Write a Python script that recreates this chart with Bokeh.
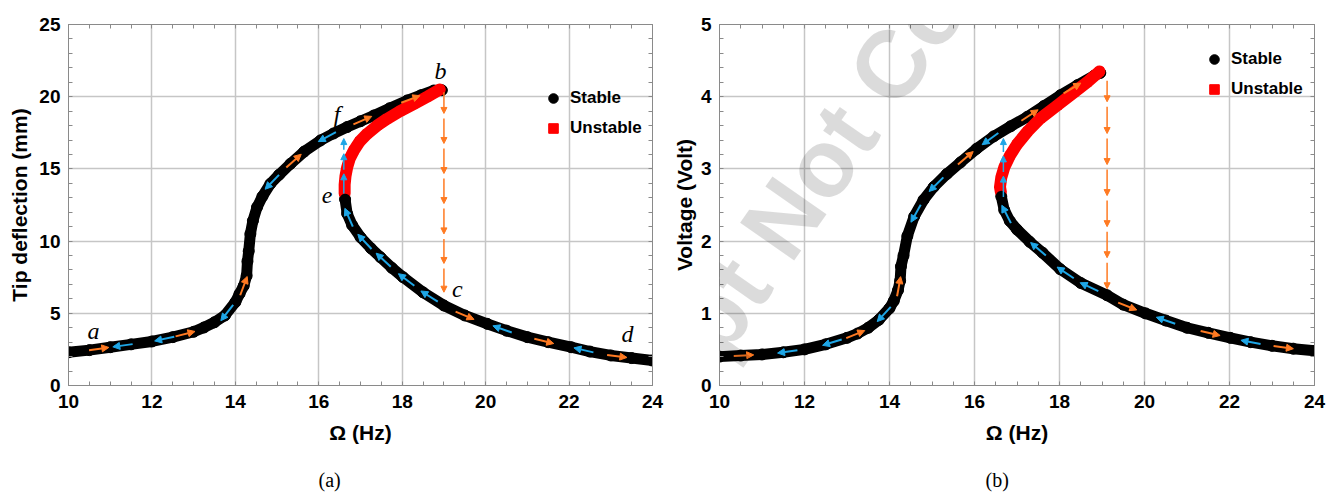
import numpy as np
from bokeh.plotting import figure
from bokeh.models import (LinearAxis, Range1d, Legend, LegendItem, Label, Arrow, Title,
                          NormalHead, ColumnDataSource, SingleIntervalTicker, FixedTicker)
from bokeh.layouts import row
from bokeh.embed import file_html
from bokeh.resources import INLINE
from bokeh.core.properties import value

# ---------------- data: panel (a) tip deflection (mm) vs frequency (Hz)
a_up_x = [10.0, 10.5, 11.0, 11.5, 12.0, 12.5, 13.0, 13.25, 13.5, 13.75, 14.0, 14.1, 14.2, 14.27,
          14.29, 14.32, 14.36, 14.42, 14.52, 14.65, 14.84, 15.05, 15.32, 15.65, 16.04, 16.35,
          16.68, 17.0, 17.32, 17.7, 18.12, 18.45, 18.76, 18.95]
a_up_y = [2.3, 2.45, 2.65, 2.85, 3.05, 3.35, 3.72, 4.02, 4.38, 4.85, 5.77, 6.35, 6.9, 7.6,
          8.6, 9.3, 10.5, 11.4, 12.35, 13.1, 13.97, 14.6, 15.35, 16.2, 16.97, 17.45,
          17.9, 18.3, 18.7, 19.2, 19.74, 20.1, 20.43, 20.45]
a_un_x = [18.9, 18.6, 18.28, 17.95, 17.64, 17.4, 17.16, 16.98, 16.84, 16.74, 16.68, 16.64,
          16.62, 16.62]
a_un_y = [20.5, 20.0, 19.5, 19.0, 18.47, 18.0, 17.43, 16.9, 16.27, 15.7, 15.1, 14.5, 13.9, 13.3]
a_lo_x = [16.63, 16.68, 16.8, 17.0, 17.25, 17.48, 17.75, 18.02, 18.5, 19.0, 19.5, 20.04, 20.5,
          21.0, 21.5, 22.05, 22.5, 23.0, 23.5, 24.0]
a_lo_y = [12.9, 11.9, 11.1, 10.27, 9.5, 8.88, 8.15, 7.5, 6.45, 5.54, 4.85, 4.27, 3.8,
          3.35, 3.0, 2.65, 2.35, 2.08, 1.9, 1.73]
# sweep arrows (x position on branch): forward (orange) / backward (blue)
a_up_fwd = [10.73, 12.8, 14.2, 15.4, 17.05, 18.2]
a_up_bwd = [11.3, 12.3, 13.8, 14.88, 16.2]
a_lo_fwd = [19.5, 21.4, 23.15]
a_lo_bwd = [16.72, 17.1, 17.55, 18.1, 18.65, 20.4, 22.35]
# jumps
a_down_x = 19.0
a_down_top = 20.3
a_down_heads = [18.84, 16.76, 14.68, 12.6, 10.5, 8.45, 6.46]
a_upj_x = 16.6
a_upj_bottom = 13.3
a_upj_heads = [14.66, 16.05, 17.1]
a_letters = ["a", "b", "c", "d", "e", "f"]
a_letter_x = [10.6, 18.92, 19.32, 23.4, 16.2, 16.44]
a_letter_y = [3.8, 21.8, 6.7, 3.58, 13.16, 18.8]

# ---------------- data: panel (b) voltage (V) vs frequency (Hz)
b_up_x = [10.0, 10.5, 11.0, 11.5, 12.0, 12.5, 13.0, 13.25, 13.5, 13.75, 14.0, 14.1, 14.2, 14.25,
          14.27, 14.33, 14.42, 14.58, 14.8, 15.04, 15.35, 15.67, 16.05, 16.45, 16.85, 17.24,
          17.63, 18.02, 18.42, 18.81, 18.96]
b_up_y = [0.40, 0.415, 0.43, 0.46, 0.50, 0.57, 0.66, 0.72, 0.80, 0.91, 1.07, 1.17, 1.32, 1.45,
          1.65, 1.8, 2.07, 2.34, 2.57, 2.75, 2.93, 3.09, 3.28, 3.45, 3.59, 3.72,
          3.87, 4.02, 4.16, 4.29, 4.33]
b_un_x = [18.94, 18.65, 18.34, 17.95, 17.55, 17.25, 17.0, 16.83, 16.7, 16.63, 16.6, 16.62]
b_un_y = [4.35, 4.2, 4.06, 3.88, 3.70, 3.52, 3.34, 3.18, 3.02, 2.88, 2.75, 2.68]
b_lo_x = [16.63, 16.7, 16.83, 17.0, 17.3, 17.6, 18.02, 18.5, 19.12, 19.5, 20.02, 20.5, 21.0,
          21.5, 22.02, 22.5, 23.0, 23.5, 24.0]
b_lo_y = [2.62, 2.43, 2.28, 2.16, 1.99, 1.84, 1.61, 1.42, 1.25, 1.12, 1.0, 0.9, 0.80,
          0.73, 0.66, 0.60, 0.55, 0.51, 0.48]
b_up_fwd = [10.57, 13.2, 14.22, 15.79, 17.3, 18.3]
b_up_bwd = [11.6, 12.65, 13.87, 14.62, 15.1, 16.37]
b_lo_fwd = [19.6, 21.55, 23.27]
b_lo_bwd = [16.75, 17.5, 18.14, 18.7, 20.5, 22.5]
b_down_x = 19.12
b_down_top = 4.22
b_down_heads = [3.93, 3.49, 3.06, 2.63, 2.2, 1.77, 1.34]
b_upj_x = 16.68
b_upj_bottom = 2.61
b_upj_heads = [2.9, 3.18, 3.42]

x_ticks_interval = 2
ORANGE = "#ff7a22"
BLUE = "#1ea6e6"
GRID = "#c6c6c6"
AX = "#8a8a8a"
FONT = "Liberation Sans"
WATERMARK = "Accepted Manuscript Not Copyedited"


def curve_arrows(bx, by, xs, direction, sx, sy, half=10.0):
    bx = np.asarray(bx); by = np.asarray(by)
    x0, y0, x1, y1 = [], [], [], []
    for x in xs:
        yc = np.interp(x, bx, by)
        ya = np.interp(x - 0.04, bx, by)
        yb = np.interp(x + 0.04, bx, by)
        tx, ty = 0.08 * sx, (yb - ya) * sy
        n = np.hypot(tx, ty)
        tx, ty = tx / n, ty / n
        x0.append(x - direction * half * tx / sx)
        y0.append(yc - direction * half * ty / sy)
        x1.append(x + direction * half * tx / sx)
        y1.append(yc + direction * half * ty / sy)
    return dict(x0=x0, y0=y0, x1=x1, y1=y1)


def add_arrows(p, data, color, lw=2, size=7):
    src = ColumnDataSource(data)
    p.add_layout(Arrow(end=NormalHead(size=size, fill_color=color, line_color=color, line_width=1),
                       line_color=color, line_width=lw, x_start="x0", y_start="y0",
                       x_end="x1", y_end="y1", source=src))


def jump_arrows(x, start, heads, gap):
    if heads[-1] > heads[0]:
        starts = [start] + [h + gap for h in heads[:-1]]
    else:
        starts = [start] + [h - gap for h in heads[:-1]]
    return dict(x0=[x] * len(heads), y0=starts, x1=[x] * len(heads), y1=list(heads))


def make_panel(width, height, bl, br, bt, bb, ymax, yint, yminor, ylabel, ylabel_standoff,
               upx, upy, unx, uny, lox, loy, upf, upb, lof, lob,
               dx, dtop, dheads, ux, ubot, uheads, legend_loc, caption, cap_offset,
               wm=None):
    p = figure(width=width, height=height, x_range=Range1d(10, 24), y_range=Range1d(0, ymax),
               output_backend="svg", toolbar_location=None,
               min_border_left=bl, min_border_right=br, min_border_top=bt, min_border_bottom=bb)
    p.outline_line_color = AX
    p.background_fill_color = "white"
    p.border_fill_color = "white"
    fw = width - bl - br
    fh = height - bt - bb
    sx = fw / 14.0
    sy = fh / ymax

    xt = SingleIntervalTicker(interval=x_ticks_interval, num_minor_ticks=4)
    yt = SingleIntervalTicker(interval=yint, num_minor_ticks=yminor)
    p.xaxis.ticker = xt
    p.yaxis.ticker = yt
    p.xgrid.ticker = xt
    p.ygrid.ticker = yt
    for g in (p.xgrid, p.ygrid):
        g.grid_line_color = GRID
        g.grid_line_width = 1.5
    for ax in (p.xaxis[0], p.yaxis[0]):
        ax.axis_line_color = AX
        ax.major_tick_in = 0
        ax.major_tick_out = 0
        ax.minor_tick_in = 4
        ax.minor_tick_out = 0
        ax.minor_tick_line_color = AX
        ax.major_label_text_font = FONT
        ax.major_label_text_font_style = "bold"
        ax.major_label_text_font_size = "19px"
        ax.major_label_text_color = "black"
        ax.axis_label_text_font = FONT
        ax.axis_label_text_font_style = "bold"
        ax.axis_label_text_font_size = "21px"
        ax.axis_label_text_color = "black"
    p.xaxis.axis_label = "Ω (Hz)"
    p.yaxis.axis_label = ylabel
    p.xaxis.major_label_standoff = 9
    p.xaxis.axis_label_standoff = 10
    p.yaxis.major_label_standoff = 8
    p.yaxis.axis_label_standoff = ylabel_standoff

    # frame ticks on right and top: minor ticks only, no labels
    x_minor = list(np.arange(10, 24.001, x_ticks_interval / 4.0))
    y_minor = list(np.arange(0, ymax + 1e-6, yint / float(yminor)))
    for loc, mt in (("right", y_minor), ("above", x_minor)):
        ax = LinearAxis(ticker=FixedTicker(ticks=[], minor_ticks=mt), major_tick_in=0,
                        major_tick_out=0, minor_tick_in=4, minor_tick_out=0,
                        minor_tick_line_color=AX, axis_line_color=AX)
        p.add_layout(ax, loc)

    # watermark (faint, rotated) where it crosses this panel
    if wm is not None:
        p.add_layout(Label(x=wm[0], y=wm[1], text=WATERMARK, angle=np.deg2rad(55),
                           text_font=FONT, text_font_style="bold", text_font_size="96px",
                           text_color="black", text_alpha=0.14, text_align="center",
                           text_baseline="middle", level="overlay"))

    # curves
    p.line(upx, upy, line_color="black", line_width=11, line_cap="round", line_join="round")
    st = p.scatter(upx + lox, upy + loy, marker="circle", size=11, color="black")
    p.line(unx, uny, line_color="red", line_width=12, line_cap="round", line_join="round")
    un = p.scatter(unx, uny, marker="square", size=8, color="red")
    p.line(lox, loy, line_color="black", line_width=11, line_cap="round", line_join="round")

    add_arrows(p, curve_arrows(upx, upy, upf, 1, sx, sy), ORANGE)
    add_arrows(p, curve_arrows(upx, upy, upb, -1, sx, sy), BLUE)
    add_arrows(p, curve_arrows(lox, loy, lof, 1, sx, sy), ORANGE)
    add_arrows(p, curve_arrows(lox, loy, lob, -1, sx, sy), BLUE)
    add_arrows(p, jump_arrows(dx, dtop, dheads, 5.0 / sy), ORANGE, lw=1.5, size=6)
    add_arrows(p, jump_arrows(ux, ubot, uheads, 4.0 / sy), BLUE, lw=1.5, size=6)

    leg = Legend(items=[LegendItem(label="Stable", renderers=[st]),
                        LegendItem(label="Unstable", renderers=[un])],
                 location=legend_loc, padding=0, margin=0, spacing=6, glyph_width=24,
                 glyph_height=24, label_height=24, label_standoff=5,
                 background_fill_alpha=0, border_line_alpha=0,
                 label_text_font=FONT, label_text_font_style="bold",
                 label_text_font_size="17px", label_text_color="black")
    p.add_layout(leg)

    # caption under the panel (first line left blank to push it down)
    p.add_layout(Title(text="\n" + caption, align="left", offset=cap_offset, standoff=0,
                       vertical_align="top",
                       text_font="Liberation Serif", text_font_style="normal",
                       text_font_size="20px", text_color="black"), "below")
    return p


pa = make_panel(664, 494, 68, 12, 24, 109, 25, 5, 5, "Tip deflection (mm)", 5,
                a_up_x, a_up_y, a_un_x, a_un_y, a_lo_x, a_lo_y,
                a_up_fwd, a_up_bwd, a_lo_fwd, a_lo_bwd,
                a_down_x, a_down_top, a_down_heads, a_upj_x, a_upj_bottom, a_upj_heads,
                (473, 245), "(a)", 250)
pa.text(x=a_letter_x, y=a_letter_y, text=a_letters, text_font=value("Liberation Serif"),
        text_font_style="italic", text_font_size="24px", text_align="center",
        text_baseline="middle", text_color="black")

pb = make_panel(664, 494, 55, 14, 24, 109, 5, 1, 5, "Voltage (Volt)", 2,
                b_up_x, b_up_y, b_un_x, b_un_y, b_lo_x, b_lo_y,
                b_up_fwd, b_up_bwd, b_lo_fwd, b_lo_bwd,
                b_down_x, b_down_top, b_down_heads, b_upj_x, b_upj_bottom, b_upj_heads,
                (483, 284), "(b)", 266,
                wm=(10 + (680 - 719) / (595 / 14.0), (385 - 364) / (361 / 5.0)))

layout = row(pa, pb)
open("out.html", "w").write(file_html(layout, INLINE))
